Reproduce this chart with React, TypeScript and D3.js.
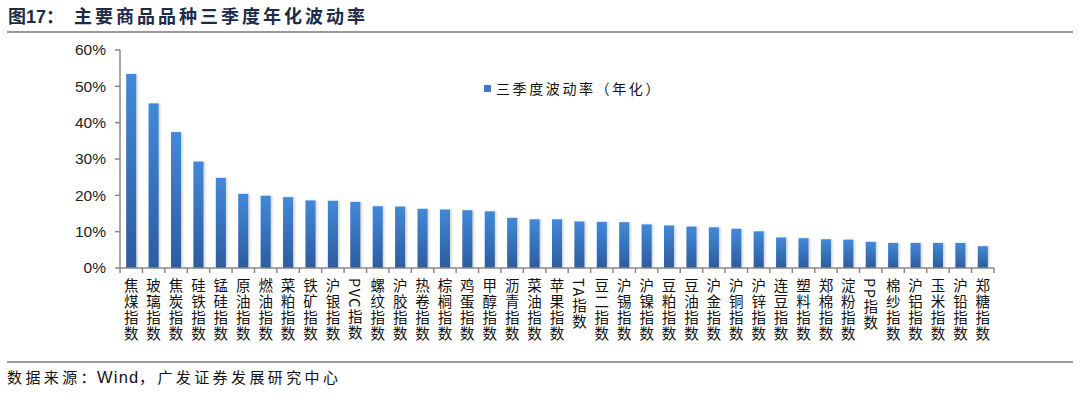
import React from "react";
import * as d3 from "d3";

const categories = ["焦煤指数","玻璃指数","焦炭指数","硅铁指数","锰硅指数","原油指数","燃油指数","菜粕指数","铁矿指数","沪银指数","PVC指数","螺纹指数","沪胶指数","热卷指数","棕榈指数","鸡蛋指数","甲醇指数","沥青指数","菜油指数","苹果指数","TA指数","豆二指数","沪锡指数","沪镍指数","豆粕指数","豆油指数","沪金指数","沪铜指数","沪锌指数","连豆指数","塑料指数","郑棉指数","淀粉指数","PP指数","棉纱指数","沪铝指数","玉米指数","沪铅指数","郑糖指数"];
const values = [53.4,45.3,37.4,29.3,24.8,20.4,19.9,19.5,18.6,18.5,18.2,17.0,16.9,16.3,16.1,15.9,15.6,13.8,13.4,13.4,12.8,12.7,12.6,12.0,11.7,11.4,11.2,10.8,10.1,8.4,8.2,7.9,7.8,7.2,6.9,6.9,6.9,6.9,6.0];
const yTicks = [0,10,20,30,40,50,60];
const seriesName = "三季度波动率（年化）";
const titlePrefix = "图17：";
const title = "主要商品品种三季度年化波动率";
const sourceParts = ["数据来源：", "Wind", "，广发证券发展研究中心"];

export default function App() {
  const W = 1080, H = 404;
  const left = 120, right = 994, top = 50, bottom = 268;
  const x = d3.scaleBand<string>().domain(categories).range([left, right]).paddingInner(0.55).paddingOuter(0.275);
  const xb = d3.scaleBand<string>().domain(categories).range([left, right]);
  const y = d3.scaleLinear().domain([0, 60]).range([bottom, top]);
  const sans = "Arial, 'Liberation Sans', 'Noto Sans CJK SC', sans-serif";
  const cjk = "'Noto Sans CJK SC', sans-serif";
  return (
    <svg width={W} height={H} style={{ position: "absolute", left: 0, top: 0, background: "#fff" }}
      xmlns="http://www.w3.org/2000/svg">
      <defs>
        <linearGradient id="barg" x1="0" y1="0" x2="0" y2="1">
          <stop offset="0%" stopColor="#4189d8" />
          <stop offset="100%" stopColor="#2c5c9f" />
        </linearGradient>
        <filter id="sh" x="-30%" y="-10%" width="160%" height="120%">
          <feDropShadow dx="1.5" dy="0" stdDeviation="1" floodColor="#000" floodOpacity="0.18" />
        </filter>
      </defs>
      <text x={8} y={23} fontFamily={sans} fontWeight="bold" fontSize={18} fill="#1c2b48">{titlePrefix}</text>
      <text x={74} y={23} fontFamily={cjk} fontWeight="bold" fontSize={18} letterSpacing={3} fill="#1c2b48">{title}</text>
      <line x1={7} x2={1073} y1={32} y2={32} stroke="#9a9a9a" strokeWidth={2} />
      {/* y axis */}
      <line x1={left} x2={left} y1={top} y2={bottom} stroke="#888" strokeWidth={1.5} />
      {yTicks.map(t => (
        <g key={t}>
          <line x1={left - 5} x2={left} y1={y(t)} y2={y(t)} stroke="#888" strokeWidth={1.5} />
          <text x={106} y={y(t)} dy="0.35em" textAnchor="end" fontFamily={sans} fontSize={15.5} fill="#222">{t}%</text>
        </g>
      ))}
      {/* bars */}
      {categories.map((c, i) => (
        <rect key={c} x={x(c)} y={y(values[i])} width={x.bandwidth()} height={bottom - y(values[i])}
          fill="url(#barg)" filter="url(#sh)" />
      ))}
      {/* x axis */}
      <line x1={left} x2={right} y1={bottom} y2={bottom} stroke="#888" strokeWidth={1.5} />
      {categories.map(c => (
        <line key={"t" + c} x1={(xb(c) as number)} x2={(xb(c) as number)} y1={bottom} y2={bottom + 5} stroke="#888" strokeWidth={1.5} />
      ))}
      <line x1={right} x2={right} y1={bottom} y2={bottom + 5} stroke="#888" strokeWidth={1.5} />
      {categories.map(c => (
        <text key={"l" + c} x={(x(c) as number) + x.bandwidth() / 2} y={278}
          style={{ writingMode: "vertical-rl" as any }}
          fontFamily={cjk} fontSize={14.5} letterSpacing={1.5} fill="#111">{c}</text>
      ))}
      {/* legend */}
      <rect x={484} y={85} width={7} height={7} fill="#3a7bc8" />
      <text x={496} y={89} dy="0.35em" fontFamily={cjk} fontSize={14} letterSpacing={2.6} fill="#111">{seriesName}</text>
      <line x1={7} x2={1073} y1={362} y2={362} stroke="#9a9a9a" strokeWidth={2} />
      <text x={7} y={383} fontSize={15} fill="#111">
        <tspan fontFamily={cjk} letterSpacing={3.4}>{sourceParts[0]}</tspan>
        <tspan x={97} fontFamily={sans} fontSize={16.5} letterSpacing={1.2}>{sourceParts[1]}</tspan>
        <tspan x={139} fontFamily={cjk} letterSpacing={3.4}>{sourceParts[2]}</tspan>
      </text>
    </svg>
  );
}
